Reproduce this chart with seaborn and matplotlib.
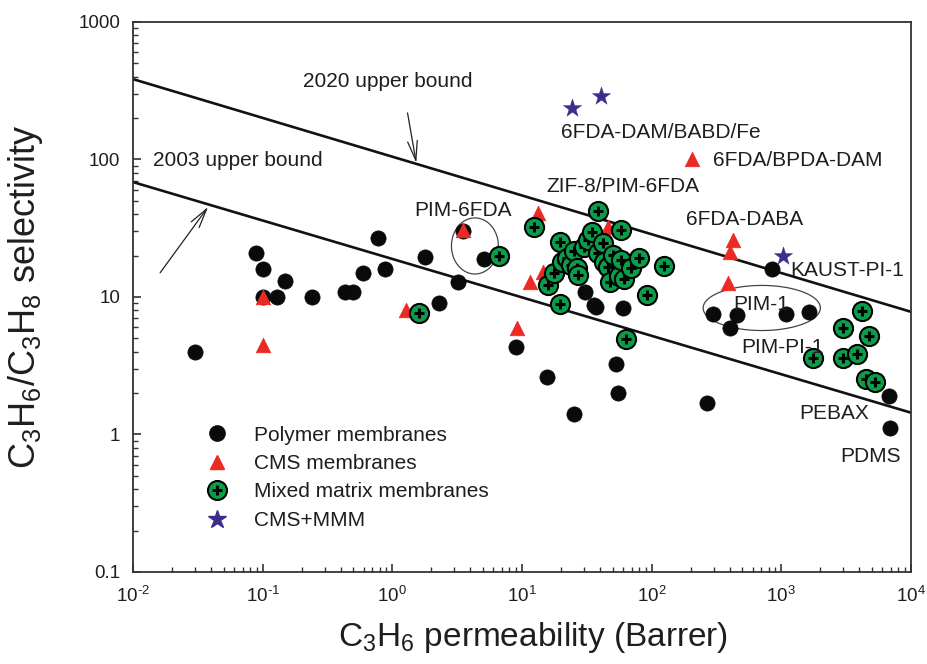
import numpy as np
import matplotlib
matplotlib.use("Agg")
import matplotlib.pyplot as plt
import seaborn as sns
from matplotlib.lines import Line2D
from matplotlib.ticker import LogLocator, FuncFormatter, NullFormatter

# ---------------- data ----------------
polymer_x = [0.03, 0.089, 0.1, 0.1, 0.13, 0.15, 0.24, 0.43, 0.50, 0.59, 0.77, 0.88,
             1.8, 2.3, 3.2, 3.5, 5.1, 9.0, 15.5, 25.4, 30.4, 35.6, 37.5, 52.7, 54.6,
             59.7, 266, 296, 400, 453, 845, 1083, 1630, 6760, 6860]
polymer_y = [4.0, 21, 16, 10, 10, 13.1, 10, 10.9, 10.9, 15, 26.8, 16,
             19.5, 9.0, 12.9, 30, 18.9, 4.3, 2.6, 1.41, 10.9, 8.75, 8.45, 3.26, 2.0,
             8.3, 1.7, 7.5, 5.96, 7.4, 16, 7.5, 7.8, 1.9, 1.11]

cms_x = [0.1, 0.1, 1.28, 3.5, 9.2, 11.6, 13.2, 14.4, 45.7, 204, 386, 400, 422]
cms_y = [10, 4.5, 8.0, 30.5, 5.95, 12.9, 40.8, 15.2, 32.3, 101, 12.6, 21.2, 26]

mmm_x = [1.62, 6.6, 12.3, 16, 17.5, 19.5, 19.8, 20.5, 22.1, 24, 25, 26.4, 27, 29.9,
         32, 34.4, 38.3, 38.3, 41.9, 43, 45.7, 47.4, 50, 55.6, 57.7, 57.7, 60.8,
         63, 68.9, 79.4, 91.4, 124, 1750, 2985, 2990, 3830, 4190, 4490, 4740, 5270]
mmm_y = [7.65, 19.9, 32.3, 12.2, 15, 25.1, 8.9, 18, 19.2, 17, 21.5, 16.3, 14.5, 23.1,
         26, 29.7, 42.2, 20.9, 24.7, 18, 16.5, 12.9, 20.2, 14.2, 30.7, 18.6, 13.5,
         4.95, 16.3, 19.2, 10.4, 16.8, 3.6, 5.96, 3.6, 3.85, 7.9, 2.54, 5.2, 2.41]

star_x = [24.5, 41, 1027]
star_y = [237, 290, 19.9]

bound2003_x = [0.01, 1e4]
bound2003_y = [68.5, 1.44]
bound2020_x = [0.01, 1e4]
bound2020_y = [384, 7.8]

legend_labels = ["Polymer membranes", "CMS membranes",
                 "Mixed matrix membranes", "CMS+MMM"]

annot_text = ["PIM-6FDA", "6FDA-DAM/BABD/Fe", "6FDA/BPDA-DAM", "ZIF-8/PIM-6FDA",
              "6FDA-DABA", "KAUST-PI-1", "PIM-1", "PIM-PI-1", "PEBAX", "PDMS"]
annot_x = [3.53, 117, 1330, 59.7, 518, 3205, 695, 1028, 2540, 4910]
annot_y = [42.2, 158, 97.5, 64.1, 36.9, 15.5, 8.75, 4.26, 1.43, 0.686]

# ellipses: centre (log10 x, log10 y) and semi-axes in decades
ell_cx = [0.637, 2.849]
ell_cy = [1.371, 0.920]
ell_ax = [0.181, 0.452]
ell_ay = [0.204, 0.164]

xticks = [1e-2, 1e-1, 1e0, 1e1, 1e2, 1e3, 1e4]
yticks = [0.1, 1, 10, 100, 1000]

# ---------------- style ----------------
sns.set_style("ticks")
plt.rcParams["font.family"] = ["Liberation Sans", "DejaVu Sans"]
plt.rcParams["mathtext.fontset"] = "custom"
plt.rcParams["mathtext.rm"] = "Liberation Sans"
plt.rcParams["mathtext.it"] = "Liberation Sans:italic"
plt.rcParams["mathtext.bf"] = "Liberation Sans:bold"
plt.rcParams["axes.unicode_minus"] = False

TXT = "#1e1e1e"
RED = "#ec2a24"
GREEN = "#0b9e4a"
STAR = "#3b2c8e"

fig = plt.figure(figsize=(9.28, 6.64), dpi=100)
ax = fig.add_axes([0.1433, 0.1386, 0.8384, 0.8283])
ax.set_xscale("log")
ax.set_yscale("log")
ax.set_xlim(1e-2, 1e4)
ax.set_ylim(0.1, 1000)

# bounds
sns.lineplot(x=bound2003_x, y=bound2003_y, ax=ax, color="#111111", lw=1.9, zorder=2)
sns.lineplot(x=bound2020_x, y=bound2020_y, ax=ax, color="#111111", lw=1.9, zorder=2)

# ellipses
t = np.linspace(0, 2 * np.pi, 200)
for cx, cy, a, b in zip(ell_cx, ell_cy, ell_ax, ell_ay):
    ax.plot(10 ** (cx + a * np.cos(t)), 10 ** (cy + b * np.sin(t)),
            color="#444444", lw=0.9, zorder=2)

# points
sns.scatterplot(x=polymer_x, y=polymer_y, ax=ax, marker="o", s=120,
                color="#0a0a0a", edgecolor="#0a0a0a", linewidth=0.5,
                legend=False, zorder=3)
sns.scatterplot(x=cms_x, y=cms_y, ax=ax, marker="^", s=110,
                color=RED, edgecolor=RED, linewidth=0.5, legend=False, zorder=4)
z = 5
for xv, yv in zip(mmm_x, mmm_y):
    sns.scatterplot(x=[xv], y=[yv], ax=ax, marker="o", s=190, color=GREEN,
                    edgecolor="black", linewidth=1.5, legend=False, zorder=z)
    sns.scatterplot(x=[xv], y=[yv], ax=ax, marker="+", s=50, color="black",
                    linewidth=2.2, legend=False, zorder=z + 0.5)
    z += 1
sns.scatterplot(x=star_x, y=star_y, ax=ax, marker="*", s=190, color=STAR,
                edgecolor=STAR, linewidth=0.3, legend=False, zorder=z + 1)

# annotations
for s, xv, yv in zip(annot_text, annot_x, annot_y):
    ax.text(xv, yv, s, ha="center", va="center", fontsize=15, color=TXT, zorder=z + 2)

ax.text(0.93, 372, "2020 upper bound", ha="center", va="center", fontsize=15, color=TXT)
ax.text(0.0647, 97.5, "2003 upper bound", ha="center", va="center", fontsize=15, color=TXT)
arrow = dict(arrowstyle="->,head_length=1.4,head_width=0.35", color="#222222",
             lw=0.9, shrinkA=0, shrinkB=0)
ax.annotate("", xy=(1.53, 94.4), xytext=(1.31, 218), arrowprops=arrow)
ax.annotate("", xy=(0.038, 45.2), xytext=(0.0162, 15), arrowprops=arrow)

# axes styling
for sp in ax.spines.values():
    sp.set_color("#333333")
    sp.set_linewidth(1.3)
ax.set_xticks(xticks)
ax.set_yticks(yticks)
ax.xaxis.set_minor_locator(LogLocator(base=10, subs=np.arange(2, 10), numticks=20))
ax.yaxis.set_minor_locator(LogLocator(base=10, subs=np.arange(2, 10), numticks=20))
ax.xaxis.set_minor_formatter(NullFormatter())
ax.yaxis.set_minor_formatter(NullFormatter())
ax.yaxis.set_major_formatter(FuncFormatter(lambda v, p: f"{v:g}"))
ax.xaxis.set_major_formatter(
    FuncFormatter(lambda v, p: r"$\mathregular{10^{\text{%d}}}$" % int(round(np.log10(v)))))
ax.tick_params(axis="both", which="major", direction="in", length=6, width=1.2,
               colors="#333333", labelcolor=TXT, labelsize=13.5)
ax.tick_params(axis="both", which="minor", direction="in", length=3.5, width=1.0,
               colors="#333333")
ax.tick_params(axis="x", which="major", pad=10)
ax.tick_params(axis="y", which="major", pad=9)
ax.tick_params(top=False, right=False, which="both")

ax.set_xlabel(r"C$_\mathregular{3}$H$_\mathregular{6}$ permeability (Barrer)",
              fontsize=24, color=TXT)
ax.set_ylabel(r"C$_\mathregular{3}$H$_\mathregular{6}$/C$_\mathregular{3}$H$_\mathregular{8}$ selectivity",
              fontsize=26, color=TXT)
ax.xaxis.set_label_coords(0.514, -0.087)
ax.yaxis.set_label_coords(-0.113, 0.5)

# legend
handles = [
    Line2D([], [], ls="none", marker="o", ms=11, color="#0a0a0a"),
    Line2D([], [], ls="none", marker="^", ms=10.5, color=RED),
    (Line2D([], [], ls="none", marker="o", ms=13.7, mfc=GREEN, mec="black", mew=1.5),
     Line2D([], [], ls="none", marker="+", ms=7, color="black", mew=2.2)),
    Line2D([], [], ls="none", marker="*", ms=13.5, color=STAR),
]
ax.legend(handles, legend_labels, loc="upper left", bbox_to_anchor=(0.094, 0.266),
          frameon=False, fontsize=15, handlelength=1.0, handletextpad=1.3,
          labelspacing=0.45, borderpad=0, borderaxespad=0, labelcolor=TXT)

fig.savefig("out.png", dpi=100)
